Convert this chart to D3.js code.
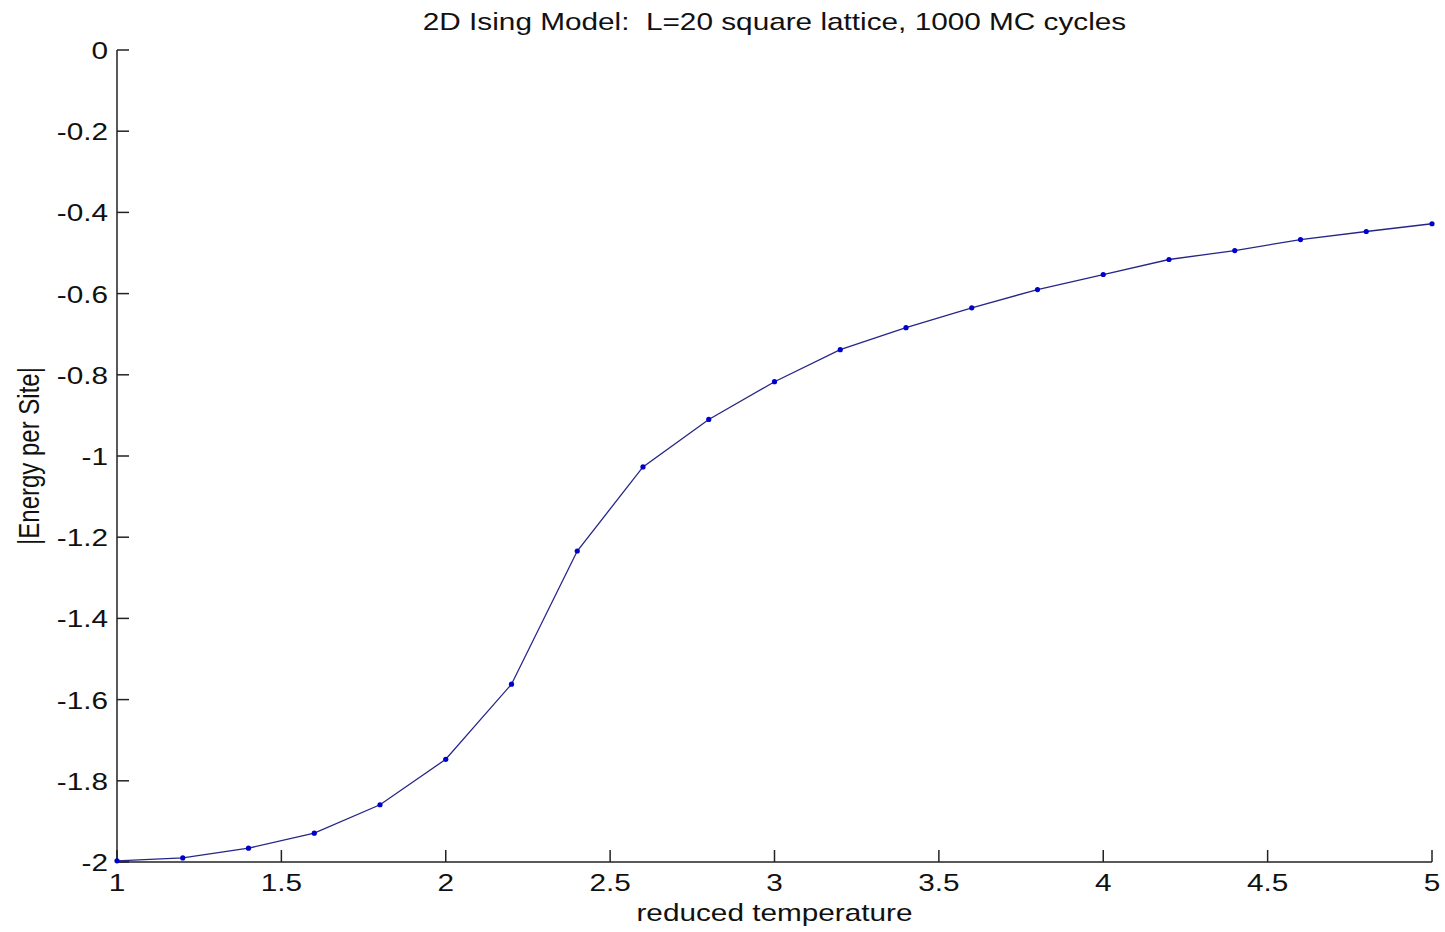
<!DOCTYPE html>
<html>
<head>
<meta charset="utf-8">
<script src="https://cdn.jsdelivr.net/npm/d3@7"></script>
<style>
  body { margin: 0; background: #fff; }
  svg text { font-family: "Liberation Sans", Arial, sans-serif; fill: #111; }
</style>
</head>
<body>
<div class="chart-container"></div>
<script>
// --- Data ---
var temperature = [1, 1.2, 1.4, 1.6, 1.8, 2, 2.2, 2.4, 2.6, 2.8, 3,
    3.2, 3.4, 3.6, 3.8, 4, 4.2, 4.4, 4.6, 4.8, 5];
var energy = [-1.997, -1.990, -1.966, -1.929, -1.859, -1.747, -1.562, -1.234, -1.027, -0.910, -0.817,
    -0.738, -0.684, -0.635, -0.590, -0.553, -0.516, -0.494, -0.467, -0.447, -0.428];
var xTicks = [1, 1.5, 2, 2.5, 3, 3.5, 4, 4.5, 5];
var yTicks = [0, -0.2, -0.4, -0.6, -0.8, -1, -1.2, -1.4, -1.6, -1.8, -2];

// --- Layout ---
const w = 1445;
const h = 932;
const plotLeft = 117, plotRight = 1432, plotTop = 50, plotBottom = 862;
const fontSize = 24;
const stretch = 1.24; // the picture is widened horizontally
const tickLen = 12;

var xScale = d3.scaleLinear().domain([1, 5]).range([plotLeft, plotRight]);
var yScale = d3.scaleLinear().domain([-2, 0]).range([plotBottom, plotTop]);

var svg = d3.select(".chart-container")
    .append("svg")
    .attr("width", w)
    .attr("height", h);

// helper for horizontally stretched text
function stretchedText(x, y, str, anchor) {
    return svg.append("text")
        .attr("transform", "translate(" + x + "," + y + ") scale(" + stretch + ",1)")
        .attr("text-anchor", anchor)
        .attr("font-size", fontSize + "px")
        .text(str);
}

// Axis lines
svg.append("line")
    .attr("x1", plotLeft).attr("x2", plotRight)
    .attr("y1", plotBottom).attr("y2", plotBottom)
    .attr("stroke", "#222").attr("stroke-width", 1.5);
svg.append("line")
    .attr("x1", plotLeft).attr("x2", plotLeft)
    .attr("y1", plotTop).attr("y2", plotBottom)
    .attr("stroke", "#222").attr("stroke-width", 1.5);

// X ticks (pointing inward)
svg.selectAll(".xtick")
    .data(xTicks)
    .enter()
    .append("line")
    .attr("class", "xtick")
    .attr("x1", function (d) { return xScale(d); })
    .attr("x2", function (d) { return xScale(d); })
    .attr("y1", plotBottom)
    .attr("y2", plotBottom - tickLen)
    .attr("stroke", "#222").attr("stroke-width", 1.5);

xTicks.forEach(function (d) {
    stretchedText(xScale(d), plotBottom + 29, String(d), "middle");
});

// Y ticks
svg.selectAll(".ytick")
    .data(yTicks)
    .enter()
    .append("line")
    .attr("class", "ytick")
    .attr("x1", plotLeft)
    .attr("x2", plotLeft + tickLen)
    .attr("y1", function (d) { return yScale(d); })
    .attr("y2", function (d) { return yScale(d); })
    .attr("stroke", "#222").attr("stroke-width", 1.5);

yTicks.forEach(function (d) {
    stretchedText(plotLeft - 9, yScale(d) + 9, String(d), "end");
});

// Title and axis labels
stretchedText((plotLeft + plotRight) / 2, 30, "2D Ising Model:  L=20 square lattice, 1000 MC cycles", "middle")
    .attr("xml:space", "preserve")
    .style("white-space", "pre");
stretchedText((plotLeft + plotRight) / 2, 921, "reduced temperature", "middle");

svg.append("text")
    .attr("transform", "translate(39," + ((plotTop + plotBottom) / 2) + ") scale(" + stretch + ",1) rotate(-90)")
    .attr("text-anchor", "middle")
    .attr("font-size", fontSize + "px")
    .text("|Energy per Site|");

// Line and markers
var line = d3.line()
    .x(function (d, i) { return xScale(temperature[i]); })
    .y(function (d) { return yScale(d); });

svg.append("path")
    .datum(energy)
    .attr("d", line)
    .attr("fill", "none")
    .attr("stroke", "#262688")
    .attr("stroke-width", 1.3);

svg.selectAll(".dot")
    .data(energy)
    .enter()
    .append("circle")
    .attr("class", "dot")
    .attr("cx", function (d, i) { return xScale(temperature[i]); })
    .attr("cy", function (d) { return yScale(d); })
    .attr("r", 2.6)
    .attr("fill", "#0000cc");
</script>
</body>
</html>
